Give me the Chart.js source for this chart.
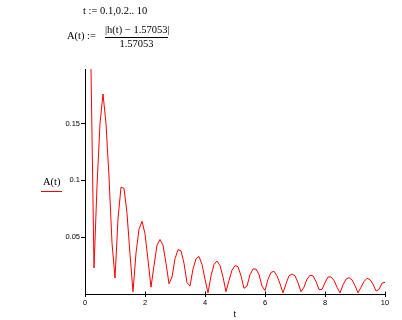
<!DOCTYPE html>
<html>
<head>
<meta charset="utf-8">
<script src="https://cdn.jsdelivr.net/npm/chart.js@4.4.1/dist/chart.umd.min.js"></script>
<style>
    html, body { margin: 0; padding: 0; background: #fff; }
    #wrap { position: relative; width: 402px; height: 320px; overflow: hidden; }
    #chart { position: absolute; left: 0; top: 0; }
    .mc {
        position: absolute;
        font-family: "Liberation Serif", "Times New Roman", serif;
        font-size: 10.5px;
        line-height: 1;
        color: #000;
        white-space: nowrap;
    }
    #frac-bar { position: absolute; left: 105px; top: 37px; width: 63px; height: 1px; background: #000; }
    #legend-line { position: absolute; left: 41px; top: 191px; width: 21px; height: 1px; background: #f00; }
</style>
</head>
<body>
<div id="wrap">
    <canvas id="chart" width="402" height="320"></canvas>
    <div class="mc" style="left:83px; top:6px;">t := 0.1,0.2.. 10</div>
    <div class="mc" style="left:67px; top:31px;">A(t) :=</div>
    <div class="mc" style="left:105px; top:25px; width:63px; text-align:center;">|h(t) &minus; 1.57053|</div>
    <div id="frac-bar"></div>
    <div class="mc" style="left:105px; top:39px; width:63px; text-align:center;">1.57053</div>
    <div class="mc" style="left:43px; top:177px;">A(t)</div>
    <div id="legend-line"></div>
</div>
<script>
// t := 0.1,0.2..10  (the curve starts at t = 0.2 in the plot)
const tStart = 0.2;
const tStep = 0.1;

// A(t), one value per step of t (0.2 .. 10)
const aValues = [
    0.198, 0.023, 0.095, 0.150, 0.176, 0.150, 0.103, 0.045, 0.014, 0.066,
    0.094, 0.093, 0.071, 0.035, 0.002, 0.036, 0.057, 0.064, 0.053, 0.030,
    0.006, 0.025, 0.043, 0.048, 0.043, 0.027, 0.009, 0.015, 0.031, 0.039,
    0.038, 0.027, 0.010, 0.007, 0.022, 0.031, 0.033, 0.026, 0.013, 0.001,
    0.016, 0.026, 0.029, 0.025, 0.015, 0.002, 0.012, 0.021, 0.025, 0.024,
    0.016, 0.005, 0.007, 0.017, 0.022, 0.022, 0.017, 0.007, 0.003, 0.013,
    0.019, 0.020, 0.016, 0.009, 0.001, 0.009, 0.016, 0.0176, 0.016, 0.010,
    0.002, 0.006, 0.013, 0.0165, 0.016, 0.011, 0.004, 0.004, 0.010, 0.015,
    0.015, 0.012, 0.006, 0.001, 0.008, 0.013, 0.0144, 0.0125, 0.0075, 0.001,
    0.006, 0.011, 0.0138, 0.0127, 0.0087, 0.0026, 0.004, 0.0096, 0.0103
];

const xTicks = [0, 2, 4, 6, 8, 10];
const yTicks = [0.05, 0.1, 0.15];
const yTickLabels = ['0.05', '0.1', '0.15'];

const points = aValues.map((v, i) => ({ x: +(tStart + i * tStep).toFixed(1), y: v }));

// Mathcad style x ticks cross the axis: draw the part above the axis line
const crossTicks = {
    id: 'crossTicks',
    afterDraw(chart) {
        const ctx = chart.ctx;
        const xs = chart.scales.x;
        const y0 = Math.round(chart.chartArea.bottom) + 0.5;
        ctx.save();
        ctx.strokeStyle = '#000';
        ctx.lineWidth = 1;
        xTicks.forEach(v => {
            if (v === 0) return;
            const px = Math.round(xs.getPixelForValue(v)) + 0.5;
            ctx.beginPath();
            ctx.moveTo(px, y0 - 3);
            ctx.lineTo(px, y0);
            ctx.stroke();
        });
        ctx.restore();
    }
};

const tickFont = { family: "'Liberation Sans', Arial, sans-serif", size: 7.5 };

new Chart(document.getElementById('chart').getContext('2d'), {
    type: 'line',
    data: {
        datasets: [{
            data: points,
            borderColor: '#ff0000',
            borderWidth: 1,
            pointRadius: 0,
            tension: 0,
            fill: false
        }]
    },
    options: {
        responsive: false,
        animation: false,
        layout: { padding: { left: 0, right: 17, top: 69, bottom: 0 } },
        plugins: {
            legend: { display: false },
            tooltip: { enabled: false }
        },
        scales: {
            x: {
                type: 'linear',
                min: 0,
                max: 10,
                afterBuildTicks: s => { s.ticks = xTicks.map(v => ({ value: v })); },
                afterFit: s => { s.height = 26; },
                grid: { display: true, drawOnChartArea: false, tickLength: 3, color: '#000' },
                border: { display: true, color: '#000', width: 1 },
                ticks: { font: tickFont, color: '#000', padding: 1, maxRotation: 0, autoSkip: false },
                title: {
                    display: true,
                    text: 't',
                    color: '#000',
                    font: { family: "'Liberation Serif', serif", size: 10 },
                    padding: { top: 0, bottom: 0 }
                }
            },
            y: {
                type: 'linear',
                min: 0,
                max: 0.198,
                afterBuildTicks: s => { s.ticks = yTicks.map(v => ({ value: v })); },
                afterFit: s => { s.width = 85; },
                grid: { display: true, drawOnChartArea: false, tickLength: 4, color: '#000' },
                border: { display: true, color: '#000', width: 1 },
                ticks: {
                    font: tickFont,
                    color: '#000',
                    padding: 1,
                    autoSkip: false,
                    callback: (v) => {
                        const i = yTicks.indexOf(v);
                        return i >= 0 ? yTickLabels[i] : '';
                    }
                }
            }
        }
    },
    plugins: [crossTicks]
});
</script>
</body>
</html>
